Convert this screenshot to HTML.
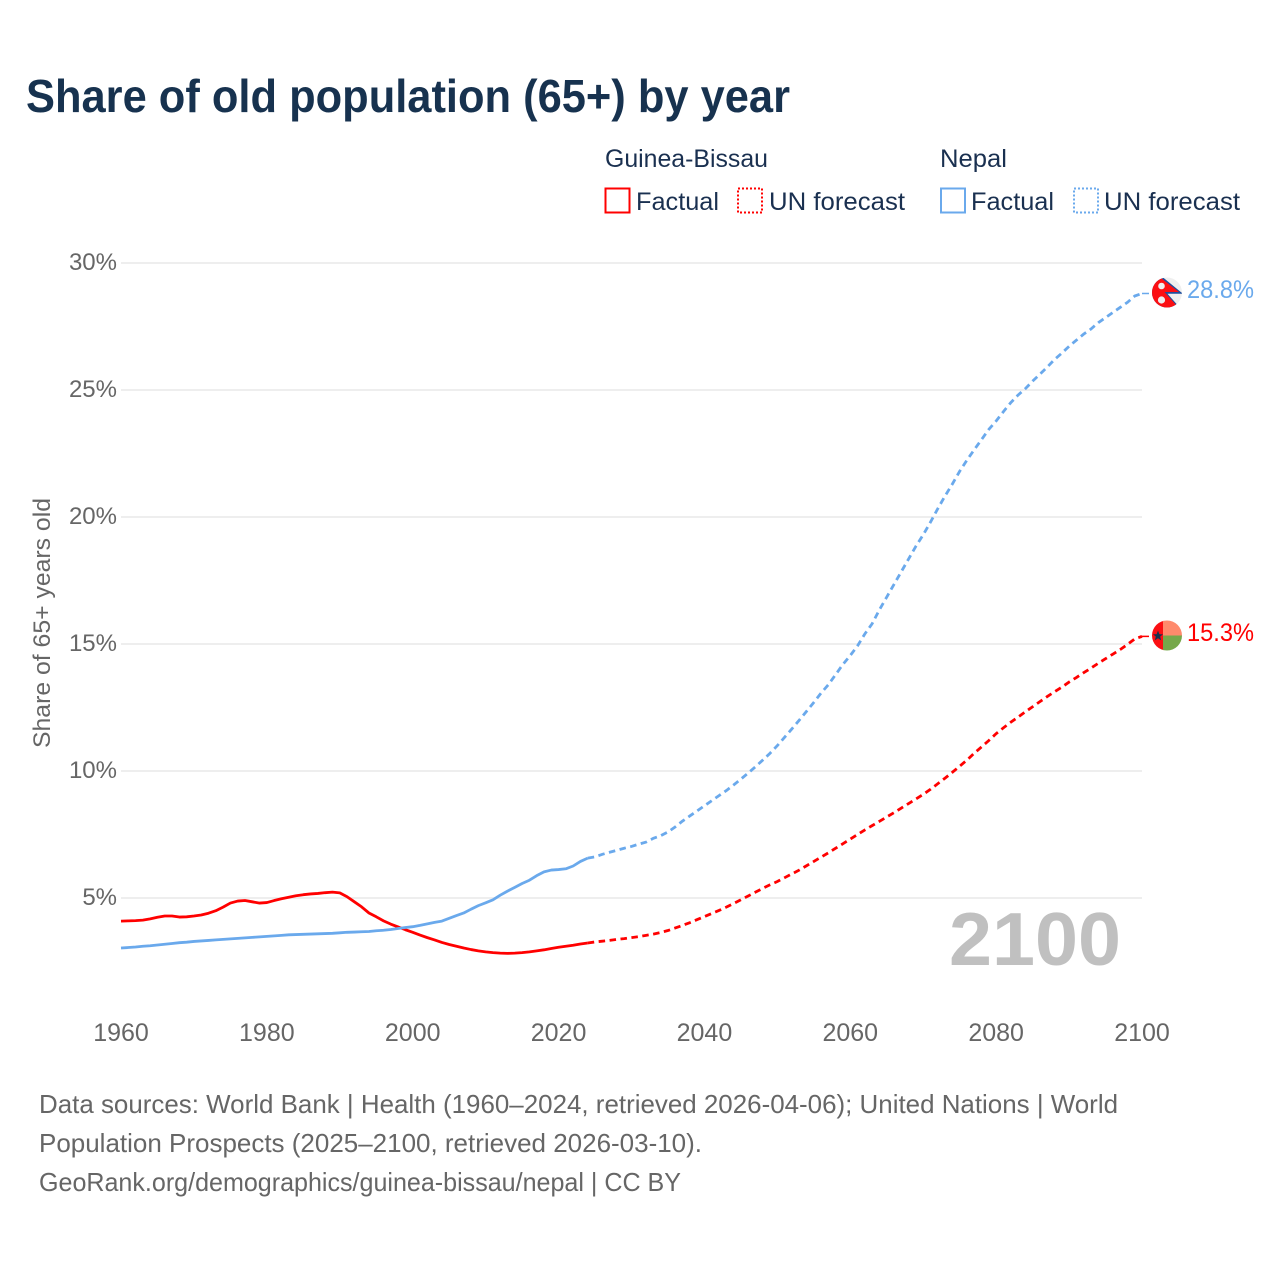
<!DOCTYPE html>
<html lang="en">
<head>
<meta charset="utf-8">
<title>Share of old population (65+) by year</title>
<style>
html,body{margin:0;padding:0;background:#fff;}
svg{display:block;font-family:"Liberation Sans",sans-serif;}
</style>
</head>
<body>
<svg id="chart" xmlns="http://www.w3.org/2000/svg" width="1280" height="1280" viewBox="0 0 1280 1280">
  <rect width="1280" height="1280" fill="#fff"/>
  <text x="26" y="112" font-size="46" font-weight="700" fill="#17324f" textLength="764" lengthAdjust="spacingAndGlyphs">Share of old population (65+) by year</text>

  <g font-size="25" fill="#1a3050">
    <text x="605" y="167" textLength="163" lengthAdjust="spacingAndGlyphs">Guinea-Bissau</text>
    <text x="940" y="167" textLength="67" lengthAdjust="spacingAndGlyphs">Nepal</text>
    <rect x="605.5" y="188.5" width="24" height="24" fill="none" stroke="#ff0000" stroke-width="2"/>
    <text x="636" y="210" textLength="83" lengthAdjust="spacingAndGlyphs">Factual</text>
    <rect x="738" y="188.5" width="24" height="24" fill="none" stroke="#ff0000" stroke-width="2" stroke-dasharray="2 2"/>
    <text x="769" y="210" textLength="136" lengthAdjust="spacingAndGlyphs">UN forecast</text>
    <rect x="941" y="188.5" width="24" height="24" fill="none" stroke="#6aa9ec" stroke-width="2"/>
    <text x="971" y="210" textLength="83" lengthAdjust="spacingAndGlyphs">Factual</text>
    <rect x="1074" y="188.5" width="24" height="24" fill="none" stroke="#6aa9ec" stroke-width="2" stroke-dasharray="2 2"/>
    <text x="1104" y="210" textLength="136" lengthAdjust="spacingAndGlyphs">UN forecast</text>
  </g>

  <g id="grid"></g>
  <g id="y-ticks" font-size="24" fill="#666" text-anchor="end"></g>
  <g id="x-ticks" font-size="25" fill="#666" text-anchor="middle"></g>
  <text transform="translate(50 623) rotate(-90)" font-size="24" fill="#666" text-anchor="middle" textLength="250" lengthAdjust="spacingAndGlyphs">Share of 65+ years old</text>

  <text x="949" y="965" font-size="75" font-weight="700" fill="#c0c0c0" textLength="172" lengthAdjust="spacingAndGlyphs">2100</text>

  <g id="series"></g>

  <defs>
    <clipPath id="clip-nepal"><circle cx="1167" cy="292.5" r="15"/></clipPath>
    <clipPath id="clip-gb"><circle cx="1167" cy="635.5" r="15"/></clipPath>
  </defs>
  <g clip-path="url(#clip-nepal)">
    <rect x="1150" y="275" width="34" height="36" fill="#efefef"/>
    <polygon points="1150,275 1160,275 1183,293.8 1167.5,293.8 1181,309 1150,311" fill="#1f4e9c"/>
    <polygon points="1150,275 1159,276.5 1179,292 1164.5,292 1177,306 1176,311 1150,311" fill="#fb0f13"/>
    <circle cx="1161.5" cy="286" r="3.3" fill="#eee"/>
    <circle cx="1161.5" cy="300" r="3.6" fill="#eee"/>
  </g>
  <text x="1187" y="298" font-size="25" fill="#6aa9ec" textLength="67" lengthAdjust="spacingAndGlyphs">28.8%</text>

  <g clip-path="url(#clip-gb)">
    <rect x="1150" y="618" width="14" height="36" fill="#fb0f13"/>
    <rect x="1163" y="618" width="21" height="18" fill="#ff8a6c"/>
    <rect x="1163" y="635.5" width="21" height="18" fill="#76a84a"/>
    <polygon points="1158,630.5 1159.4,634.2 1163,634.2 1160.2,636.6 1161.2,640.4 1158,638.2 1154.8,640.4 1155.8,636.6 1153,634.2 1156.6,634.2" fill="#17324f"/>
  </g>
  <text x="1187" y="641" font-size="25" fill="#ff0000" textLength="67" lengthAdjust="spacingAndGlyphs">15.3%</text>

  <g font-size="26" fill="#666">
    <text x="39" y="1113" textLength="1079" lengthAdjust="spacingAndGlyphs">Data sources: World Bank | Health (1960–2024, retrieved 2026-04-06); United Nations | World</text>
    <text x="39" y="1152" textLength="663" lengthAdjust="spacingAndGlyphs">Population Prospects (2025–2100, retrieved 2026-03-10).</text>
    <text x="39" y="1191" textLength="642" lengthAdjust="spacingAndGlyphs">GeoRank.org/demographics/guinea-bissau/nepal | CC BY</text>
  </g>
</svg>

<script>
const xTickYears = [1960, 1980, 2000, 2020, 2040, 2060, 2080, 2100];
const yTickValues = [5, 10, 15, 20, 25, 30];
const factualStartYear = 1960;
const forecastStartYear = 2024;

const guineaBissauFactual = [
  4.09,4.10,4.11,4.13,4.18,4.24,4.29,4.29,4.25,4.26,
  4.29,4.33,4.40,4.50,4.64,4.80,4.88,4.90,4.85,4.80,
  4.82,4.90,4.97,5.03,5.09,5.13,5.16,5.18,5.21,5.23,
  5.20,5.05,4.85,4.65,4.41,4.26,4.10,3.97,3.86,3.75,
  3.65,3.54,3.44,3.35,3.25,3.17,3.10,3.03,2.97,2.92,
  2.88,2.85,2.83,2.82,2.83,2.85,2.88,2.92,2.96,3.01,
  3.06,3.10,3.14,3.19,3.23
];
const guineaBissauForecast = [
  3.23,3.27,3.30,3.33,3.37,3.40,3.44,3.48,3.53,3.58,
  3.64,3.72,3.82,3.92,4.03,4.15,4.27,4.39,4.51,4.64,
  4.78,4.93,5.08,5.23,5.38,5.52,5.65,5.80,5.95,6.10,
  6.27,6.44,6.61,6.78,6.96,7.14,7.32,7.50,7.68,7.85,
  8.02,8.19,8.36,8.54,8.72,8.90,9.08,9.28,9.50,9.72,
  9.95,10.19,10.43,10.70,10.95,11.20,11.47,11.70,11.92,12.12,
  12.33,12.53,12.73,12.93,13.12,13.30,13.50,13.68,13.87,14.05,
  14.24,14.42,14.60,14.78,14.98,15.20,15.30
];
const nepalFactual = [
  3.03,3.05,3.07,3.10,3.12,3.15,3.18,3.21,3.24,3.26,
  3.29,3.31,3.33,3.35,3.37,3.39,3.41,3.43,3.45,3.47,
  3.49,3.51,3.53,3.55,3.56,3.57,3.58,3.59,3.60,3.61,
  3.63,3.65,3.66,3.67,3.68,3.71,3.73,3.76,3.80,3.84,
  3.87,3.92,3.98,4.04,4.09,4.20,4.31,4.41,4.56,4.70,
  4.81,4.93,5.11,5.27,5.42,5.57,5.70,5.88,6.03,6.10,
  6.12,6.15,6.26,6.44,6.57
];
const nepalForecast = [
  6.57,6.62,6.72,6.80,6.88,6.96,7.03,7.12,7.20,7.35,
  7.45,7.60,7.80,8.03,8.23,8.43,8.63,8.83,9.03,9.23,
  9.45,9.68,9.92,10.17,10.43,10.70,11.00,11.33,11.66,12.00,
  12.35,12.70,13.07,13.40,13.80,14.20,14.55,14.93,15.40,15.80,
  16.35,16.85,17.35,17.85,18.35,18.85,19.30,19.80,20.33,20.83,
  21.30,21.80,22.24,22.65,23.05,23.45,23.78,24.15,24.50,24.80,
  25.05,25.35,25.62,25.90,26.20,26.45,26.72,26.96,27.20,27.40,
  27.65,27.85,28.05,28.25,28.45,28.70,28.80
];

const SVG_NS = 'http://www.w3.org/2000/svg';
const RED = '#ff0000';
const BLUE = '#6aa9ec';

function xScale(year) { return 121 + (year - 1960) * (1142 - 121) / 140; }
function yScale(value) { return 898 - (value - 5) * 25.4; }

function linePath(values, startYear) {
  return values.map(function (v, i) {
    return (i ? 'L' : 'M') + xScale(startYear + i).toFixed(2) + ' ' + yScale(v).toFixed(2);
  }).join(' ');
}

const gridGroup = document.getElementById('grid');
const yTickGroup = document.getElementById('y-ticks');
yTickValues.forEach(function (v) {
  const gridLine = document.createElementNS(SVG_NS, 'line');
  
  
  gridLine.setAttribute('x1', xScale(1960));
  gridLine.setAttribute('x2', xScale(2100));
  gridLine.setAttribute('y1', yScale(v));
  gridLine.setAttribute('y2', yScale(v));
  gridLine.setAttribute('stroke', '#eeeeee');
  gridLine.setAttribute('stroke-width', '2');
  gridGroup.appendChild(gridLine);

  const label = document.createElementNS(SVG_NS, 'text');
  
  
  label.setAttribute('x', 117);
  label.setAttribute('y', yScale(v) + 7);
  label.textContent = v + '%';
  yTickGroup.appendChild(label);
});

const xTickGroup = document.getElementById('x-ticks');
xTickYears.forEach(function (year) {
  const label = document.createElementNS(SVG_NS, 'text');
  
  
  label.setAttribute('x', xScale(year));
  label.setAttribute('y', 1041);
  label.textContent = year;
  xTickGroup.appendChild(label);
});

const seriesGroup = document.getElementById('series');

const gbFactualLine = document.createElementNS(SVG_NS, 'path');


gbFactualLine.setAttribute('d', linePath(guineaBissauFactual, factualStartYear));
gbFactualLine.setAttribute('fill', 'none');
gbFactualLine.setAttribute('stroke', RED);
gbFactualLine.setAttribute('stroke-width', '2.8');
gbFactualLine.setAttribute('stroke-linejoin', 'round');
seriesGroup.appendChild(gbFactualLine);

const gbForecastLine = document.createElementNS(SVG_NS, 'path');


gbForecastLine.setAttribute('d', linePath(guineaBissauForecast, forecastStartYear));
gbForecastLine.setAttribute('fill', 'none');
gbForecastLine.setAttribute('stroke', RED);
gbForecastLine.setAttribute('stroke-width', '2.8');
gbForecastLine.setAttribute('stroke-dasharray', '6.5 4.5');
seriesGroup.appendChild(gbForecastLine);

const nepalFactualLine = document.createElementNS(SVG_NS, 'path');


nepalFactualLine.setAttribute('d', linePath(nepalFactual, factualStartYear));
nepalFactualLine.setAttribute('fill', 'none');
nepalFactualLine.setAttribute('stroke', BLUE);
nepalFactualLine.setAttribute('stroke-width', '2.8');
nepalFactualLine.setAttribute('stroke-linejoin', 'round');
seriesGroup.appendChild(nepalFactualLine);

const nepalForecastLine = document.createElementNS(SVG_NS, 'path');


nepalForecastLine.setAttribute('d', linePath(nepalForecast, forecastStartYear));
nepalForecastLine.setAttribute('fill', 'none');
nepalForecastLine.setAttribute('stroke', BLUE);
nepalForecastLine.setAttribute('stroke-width', '2.8');
nepalForecastLine.setAttribute('stroke-dasharray', '6.5 4.5');
seriesGroup.appendChild(nepalForecastLine);

const gbLeader = document.createElementNS(SVG_NS, 'line');


gbLeader.setAttribute('x1', xScale(2100));
gbLeader.setAttribute('x2', xScale(2100) + 7);
gbLeader.setAttribute('y1', yScale(guineaBissauForecast[guineaBissauForecast.length - 1]));
gbLeader.setAttribute('y2', yScale(guineaBissauForecast[guineaBissauForecast.length - 1]));
gbLeader.setAttribute('stroke', RED);
gbLeader.setAttribute('stroke-width', '1.5');
seriesGroup.appendChild(gbLeader);

const nepalLeader = document.createElementNS(SVG_NS, 'line');


nepalLeader.setAttribute('x1', xScale(2100));
nepalLeader.setAttribute('x2', xScale(2100) + 7);
nepalLeader.setAttribute('y1', yScale(nepalForecast[nepalForecast.length - 1]));
nepalLeader.setAttribute('y2', yScale(nepalForecast[nepalForecast.length - 1]));
nepalLeader.setAttribute('stroke', BLUE);
nepalLeader.setAttribute('stroke-width', '1.5');
seriesGroup.appendChild(nepalLeader);
</script>
</body>
</html>
